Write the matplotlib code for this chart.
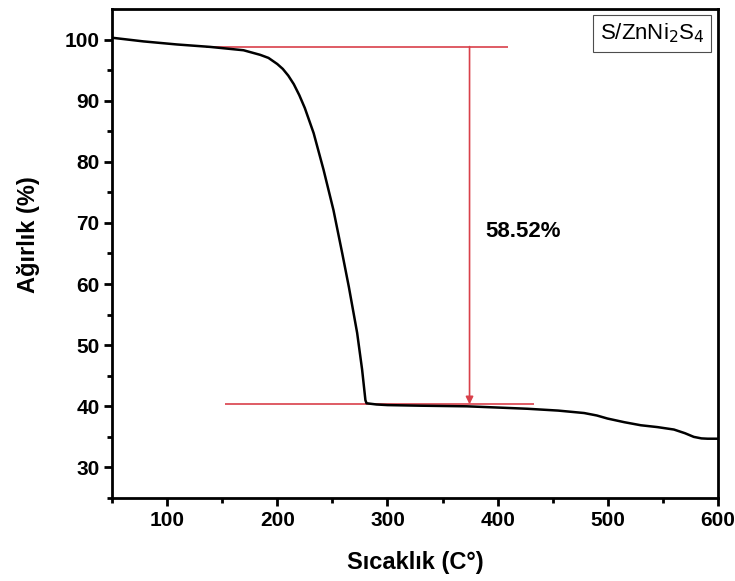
import matplotlib
matplotlib.use("Agg")
import matplotlib.pyplot as plt

plt.rcParams["font.family"] = ["Liberation Sans", "DejaVu Sans"]

# TGA curve
temp = [50, 78.5, 108.8, 139, 169.4, 184.5, 192, 200, 205, 210, 215,
        220, 225, 233, 242, 251, 259, 265, 272.5, 277, 280, 281,
        290, 300, 330, 372, 400, 427, 455, 478.5, 490, 499.7, 515, 530,
        545, 560, 570, 578, 585, 590.6, 600]
weight = [100.3, 99.7, 99.2, 98.8, 98.25, 97.5, 97.0, 96.0, 95.2, 94.1,
          92.7, 90.9, 88.8, 84.7, 78.7, 72.1, 65.0, 59.5, 52.0, 46.0,
          41.0, 40.5, 40.3, 40.2, 40.1, 40.0, 39.8, 39.6, 39.3, 38.9,
          38.5, 38.0, 37.4, 36.9, 36.6, 36.2, 35.6, 35.0, 34.75, 34.7,
          34.7]

top_level = 98.85
bottom_level = 40.33
top_span = (135, 409)
bottom_span = (153, 433)
arrow_x = 374.5
loss_label = "58.52%"
sample_label = r"S/ZnNi$_2$S$_4$"

fig = plt.figure(figsize=(7.35, 5.81), dpi=100)
ax = fig.add_axes([112 / 735, 83 / 581, 606 / 735, 489 / 581])

red = "#d9404a"
ax.plot(temp, weight, color="black", lw=1.8, zorder=3,
        solid_joinstyle="round")
ax.hlines(top_level, *top_span, color=red, lw=1.2, zorder=2)
ax.hlines(bottom_level, *bottom_span, color=red, lw=1.2, zorder=2)
ax.annotate("", xy=(arrow_x, bottom_level), xytext=(arrow_x, top_level),
            arrowprops=dict(arrowstyle="-|>", color=red, lw=1.2,
                            mutation_scale=11, shrinkA=0, shrinkB=0))
ax.text(arrow_x + 14, 68.6, loss_label, fontsize=16, fontweight="bold",
        va="center", ha="left")
ax.text(0.978, 0.974, sample_label, transform=ax.transAxes, fontsize=16,
        ha="right", va="top",
        bbox=dict(boxstyle="square,pad=0.3", fc="white", ec="0.3", lw=0.8))

ax.set_xlim(50, 600)
ax.set_ylim(25, 105)
ax.set_xticks([100, 200, 300, 400, 500, 600])
ax.set_xticks([50, 150, 250, 350, 450, 550], minor=True)
ax.set_yticks([30, 40, 50, 60, 70, 80, 90, 100])
ax.set_yticks([25, 35, 45, 55, 65, 75, 85, 95], minor=True)
ax.tick_params(which="major", direction="out", length=6, width=2,
               labelsize=15, pad=3)
ax.tick_params(which="minor", direction="out", length=3.5, width=2)
for lab in ax.get_xticklabels() + ax.get_yticklabels():
    lab.set_fontweight("bold")
for s in ax.spines.values():
    s.set_linewidth(2)

ax.set_xlabel("Sıcaklık (C°)", fontsize=17, fontweight="bold",
              va="center")
ax.set_ylabel("Ağırlık (%)", fontsize=17, fontweight="bold",
              va="center", ha="center")
ax.xaxis.set_label_coords(0.5, -0.131)
ax.yaxis.set_label_coords(-0.137, 0.538)

fig.savefig("out.png", dpi=100)
